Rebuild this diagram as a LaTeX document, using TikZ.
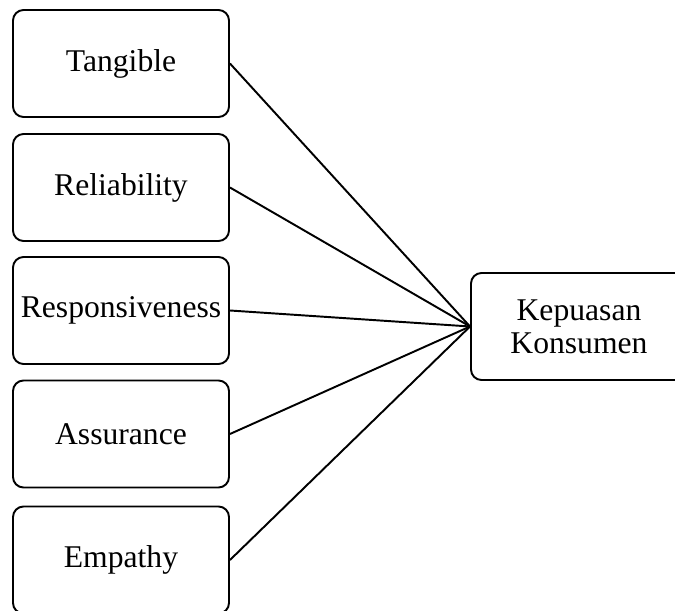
\documentclass[tikz,border=0pt]{standalone}
\usepackage{fontspec}
\setmainfont{Liberation Serif}
\begin{document}
\begin{tikzpicture}[line width=1.1pt,
  dim/.style={draw, rounded corners=6pt, minimum width=4.32cm, minimum height=2.14cm,
    align=center, inner sep=0pt, font=\fontsize{18}{19}\selectfont}]
\useasboundingbox (0,0) rectangle (13.5,12.2);
% dimensi kualitas layanan
\node[dim] (tang) at (2.42,10.93) {Tangible};
\node[dim] (rel)  at (2.42,8.45) {Reliability};
\node[dim] (resp) at (2.42,5.99) {Responsiveness};
\node[dim] (ass)  at (2.42,3.52) {Assurance};
\node[dim] (emp)  at (2.42,1.0) {Empathy};
% variabel terikat
\node[dim] (kep) at (11.58,5.67) {Kepuasan\\Konsumen};
\foreach \d in {tang,rel,resp,ass,emp}
  \draw (\d.east)--(kep.west);
\end{tikzpicture}
\end{document}
